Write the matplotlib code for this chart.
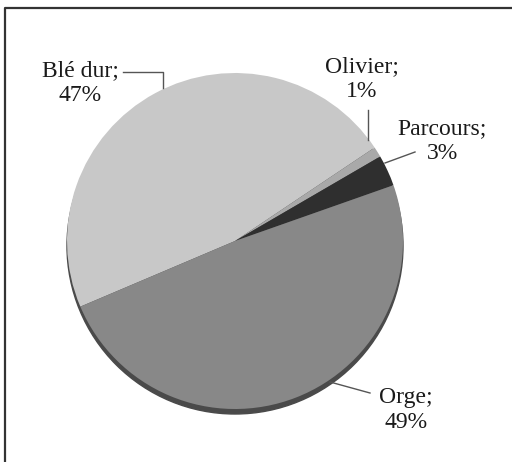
import matplotlib
matplotlib.use('Agg')
import matplotlib.pyplot as plt
from matplotlib.patches import Circle

# donnees
labels = ['Blé dur', 'Olivier', 'Parcours', 'Orge']
values = [47, 1, 3, 49]
colors = ['#c8c8c8', '#a9a9a9', '#2f2f2f', '#888888']

# positions des etiquettes (coord. image, y vers le bas)
label_pos = [(80, 83), (362, 79), (442, 141), (406, 410)]
leaders = [
    [(123, 72), (163, 72), (163, 88)],
    [(368, 110), (368, 140)],
    [(415, 152), (385, 163)],
    [(370, 393), (330, 382)],
]

W, H = 512, 462
plt.rcParams['font.family'] = ['Liberation Serif', 'DejaVu Serif']

fig = plt.figure(figsize=(W / 100, H / 100), dpi=100)
ax = fig.add_axes([0, 0, 1, 1])

cx, cy, r = 235, H - 241, 168

# ombre du camembert 3D
ax.add_patch(Circle((cx, cy - 5), r, color='#4a4a4a', zorder=1))

wedges, _ = ax.pie(values, colors=colors, startangle=203, counterclock=False,
                   center=(cx, cy), radius=r,
                   wedgeprops=dict(linewidth=0, zorder=2))
for w in wedges:
    w.set_zorder(2)

for lab, v, (x, y) in zip(labels, values, label_pos):
    ax.text(x, H - y, f'{lab};\n{v}%', ha='center', va='center',
            multialignment='center', fontsize=17, color='#1a1a1a',
            linespacing=1.2, zorder=4)

for pts in leaders:
    xs = [p[0] for p in pts]
    ys = [H - p[1] for p in pts]
    ax.plot(xs, ys, color='#555555', lw=1, zorder=3)

# cadre
ax.plot([5, 5, W + 5], [-5, H - 8, H - 8], color='#333333', lw=1.6,
        clip_on=False, zorder=5)

ax.set_xlim(0, W)
ax.set_ylim(0, H)
ax.set_aspect('equal')
ax.axis('off')

fig.savefig('out.png', dpi=100, facecolor='white')
